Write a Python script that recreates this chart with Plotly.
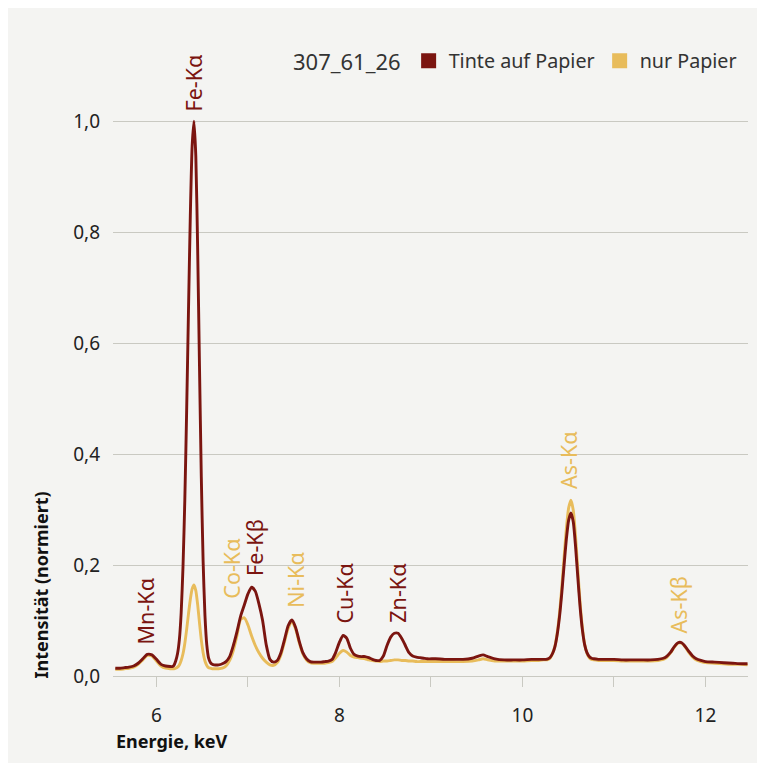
import plotly.graph_objects as go

# ---- data ----
energy_keV = [
    5.55, 5.60, 5.65, 5.70, 5.75, 5.80, 5.85, 5.90, 5.95, 6.00, 6.05, 6.10, 6.15,
    6.17, 6.19, 6.21, 6.23, 6.25, 6.27, 6.29, 6.31, 6.33, 6.35, 6.37, 6.39, 6.41,
    6.43, 6.45, 6.47, 6.49, 6.51, 6.53, 6.55, 6.57, 6.59, 6.61, 6.63,
    6.68, 6.72, 6.76, 6.80, 6.84, 6.88, 6.92, 6.96, 7.00, 7.04,
    7.08, 7.12, 7.16, 7.20, 7.24, 7.28, 7.32, 7.36, 7.40, 7.44,
    7.48, 7.52, 7.56, 7.60, 7.64, 7.68, 7.72, 7.76, 7.80, 7.84,
    7.88, 7.92, 7.96, 8.00, 8.04, 8.08, 8.12, 8.16, 8.20, 8.24,
    8.28, 8.32, 8.36, 8.40, 8.44, 8.48, 8.52, 8.56, 8.60, 8.64,
    8.68, 8.72, 8.76, 8.80, 8.84, 8.88, 8.92, 8.96,
    9.05, 9.15, 9.25, 9.35, 9.45, 9.52, 9.57, 9.62, 9.70, 9.80, 9.90, 10.00, 10.10, 10.18, 10.23,
    10.255, 10.28, 10.305, 10.33, 10.355, 10.38, 10.405, 10.43, 10.455, 10.48, 10.505, 10.53,
    10.555, 10.58, 10.605, 10.63, 10.655, 10.68, 10.705, 10.73, 10.755, 10.78, 10.83,
    10.90, 11.00, 11.10, 11.20, 11.30, 11.40, 11.48, 11.54, 11.58, 11.62, 11.66, 11.70,
    11.74, 11.78, 11.82, 11.86, 11.90, 11.95, 12.00, 12.10, 12.20, 12.30, 12.40, 12.46,
]

tinte_auf_papier = [
    0.014, 0.014, 0.015, 0.016, 0.018, 0.023, 0.031, 0.039, 0.038, 0.030, 0.021, 0.018, 0.017,
    0.017, 0.019, 0.027, 0.040, 0.065, 0.114, 0.197, 0.318, 0.479, 0.659, 0.830, 0.955, 1.000,
    0.937, 0.772, 0.560, 0.359, 0.206, 0.109, 0.056, 0.032, 0.024, 0.021, 0.020,
    0.020, 0.022, 0.026, 0.035, 0.055, 0.080, 0.108, 0.128, 0.148, 0.160,
    0.153, 0.130, 0.100, 0.056, 0.030, 0.025, 0.028, 0.042, 0.066, 0.091,
    0.101, 0.088, 0.063, 0.042, 0.031, 0.026, 0.025, 0.025, 0.025, 0.026,
    0.027, 0.030, 0.043, 0.061, 0.073, 0.068, 0.050, 0.039, 0.036, 0.035,
    0.035, 0.033, 0.030, 0.028, 0.028, 0.036, 0.055, 0.070, 0.077, 0.077,
    0.068, 0.055, 0.042, 0.036, 0.034, 0.033, 0.032, 0.031,
    0.031, 0.030, 0.030, 0.030, 0.032, 0.036, 0.038, 0.035, 0.031, 0.029, 0.029, 0.029, 0.030, 0.030, 0.030,
    0.030, 0.031, 0.034, 0.041, 0.053, 0.075, 0.107, 0.150, 0.200, 0.247, 0.281, 0.294,
    0.278, 0.234, 0.178, 0.124, 0.083, 0.056, 0.042, 0.035, 0.032, 0.031, 0.030,
    0.030, 0.030, 0.029, 0.029, 0.029, 0.029, 0.030, 0.032, 0.036, 0.043, 0.053, 0.060,
    0.060, 0.053, 0.044, 0.036, 0.031, 0.028, 0.026, 0.025, 0.024, 0.023, 0.022, 0.022,
]

nur_papier = [
    0.012, 0.012, 0.013, 0.014, 0.016, 0.021, 0.029, 0.037, 0.036, 0.027, 0.018, 0.014, 0.013,
    0.013, 0.013, 0.014, 0.016, 0.020, 0.028, 0.040, 0.059, 0.084, 0.112, 0.138, 0.157, 0.164,
    0.154, 0.129, 0.096, 0.065, 0.042, 0.027, 0.019, 0.015, 0.014, 0.013, 0.013,
    0.013, 0.014, 0.018, 0.028, 0.046, 0.073, 0.102, 0.105, 0.092, 0.072,
    0.055, 0.042, 0.032, 0.025, 0.020, 0.019, 0.024, 0.038, 0.062, 0.086,
    0.097, 0.085, 0.060, 0.040, 0.029, 0.024, 0.023, 0.023, 0.023, 0.023,
    0.024, 0.026, 0.033, 0.041, 0.046, 0.043, 0.037, 0.034, 0.033, 0.032,
    0.031, 0.029, 0.028, 0.027, 0.026, 0.027, 0.027, 0.028, 0.029, 0.029,
    0.028, 0.028, 0.027, 0.027, 0.026, 0.026, 0.026, 0.026,
    0.026, 0.026, 0.026, 0.026, 0.027, 0.029, 0.031, 0.029, 0.027, 0.027, 0.027, 0.027, 0.028, 0.028, 0.029,
    0.029, 0.030, 0.033, 0.041, 0.054, 0.078, 0.113, 0.160, 0.214, 0.266, 0.303, 0.317,
    0.299, 0.252, 0.191, 0.132, 0.087, 0.057, 0.041, 0.033, 0.030, 0.029, 0.028,
    0.028, 0.028, 0.027, 0.027, 0.027, 0.027, 0.028, 0.030, 0.034, 0.042, 0.052, 0.059,
    0.059, 0.052, 0.042, 0.034, 0.029, 0.026, 0.024, 0.023, 0.022, 0.021, 0.021, 0.020,
]

peak_labels = ["Mn-Kα", "Fe-Kα", "Co-Kα", "Fe-Kβ", "Ni-Kα", "Cu-Kα", "Zn-Kα", "As-Kα", "As-Kβ"]
peak_energy = [5.89, 6.41, 6.82, 7.07, 7.52, 8.05, 8.64, 10.51, 11.71]
peak_label_base = [0.0595, 1.020, 0.142, 0.182, 0.124, 0.0955, 0.097, 0.339, 0.079]
peak_series = ["ink", "ink", "paper", "ink", "paper", "ink", "ink", "paper", "paper"]

y_tick_vals = [0.0, 0.2, 0.4, 0.6, 0.8, 1.0]
y_tick_text = ["0,0", "0,2", "0,4", "0,6", "0,8", "1,0"]
x_tick_vals = [6, 7, 8, 9, 10, 11, 12]
x_tick_text = ["6", "", "8", "", "10", "", "12"]

sample_name = "307_61_26"
series_names = ["Tinte auf Papier", "nur Papier"]

# ---- style ----
RED = "#7b1510"
YEL = "#e8bc5b"
BG = "#f4f4f2"
GRID = "#c9c9c2"
FONT = "Noto Sans"
W, H = 749, 755
L, R, T, B = 105, 740, 102, 668

fig = go.Figure()
fig.add_trace(go.Scatter(x=energy_keV, y=nur_papier, mode="lines",
                         line=dict(color=YEL, width=2.9, shape="spline", smoothing=0.6),
                         showlegend=False, hoverinfo="skip"))
fig.add_trace(go.Scatter(x=energy_keV, y=tinte_auf_papier, mode="lines",
                         line=dict(color=RED, width=2.9, shape="spline", smoothing=0.6),
                         showlegend=False, hoverinfo="skip"))
for name, col in zip(series_names, [RED, YEL]):
    fig.add_trace(go.Scatter(x=[None], y=[None], mode="markers", name=name,
                             marker=dict(symbol="square", size=15, color=col)))

annotations = []
for lab, e, v, s in zip(peak_labels, peak_energy, peak_label_base, peak_series):
    annotations.append(dict(x=e, y=v, xref="x", yref="y", text=lab, showarrow=False,
                            textangle=-90, xanchor="center", yanchor="bottom", borderpad=0,
                            yshift=-2,
                            font=dict(family=FONT, size=21.5, color=RED if s == "ink" else YEL)))

pw, ph = R - L, B - T
annotations.append(dict(x=(106 - L) / pw, y=(B - 733) / ph, xref="paper", yref="paper",
                        text="<b>Energie, keV</b>", showarrow=False, xanchor="left", yanchor="middle",
                        font=dict(family=FONT, size=18, color="#111")))
annotations.append(dict(x=(32 - L) / pw, y=(B - 672) / ph, xref="paper", yref="paper",
                        text="<b>Intensität (normiert)</b>", showarrow=False, textangle=-90,
                        xanchor="center", yanchor="bottom", borderpad=0,
                        font=dict(family=FONT, size=18, color="#111")))

fig.update_layout(
    width=W, height=H,
    margin=dict(l=L, r=W - R, t=T, b=H - B),
    paper_bgcolor=BG, plot_bgcolor=BG,
    font=dict(family=FONT, color="#222"),
    hovermode=False,
    showlegend=True,
    legend=dict(orientation="h", x=(734 - L) / pw, xanchor="right", y=(B - 53) / ph, yanchor="middle",
                title=dict(text=sample_name, side="left", font=dict(family=FONT, size=22, color="#333")),
                font=dict(family=FONT, size=19.7, color="#333"), bgcolor="rgba(0,0,0,0)"),
    annotations=annotations,
)
fig.update_xaxes(range=[5.525, 12.465], tickvals=x_tick_vals, ticktext=x_tick_text,
                 ticks="outside", ticklen=10, tickcolor=GRID, showline=True, linecolor=GRID,
                 linewidth=1, showgrid=False, zeroline=False, ticklabelstandoff=12,
                 tickfont=dict(family=FONT, size=19, color="#222"))
fig.update_yaxes(range=[0, 1.02], tickvals=y_tick_vals, ticktext=y_tick_text,
                 showgrid=True, gridcolor=GRID, gridwidth=1, zeroline=False, ticks="",
                 ticklabelstandoff=12, tickfont=dict(family=FONT, size=19, color="#222"))

fig.write_html("out.html")
